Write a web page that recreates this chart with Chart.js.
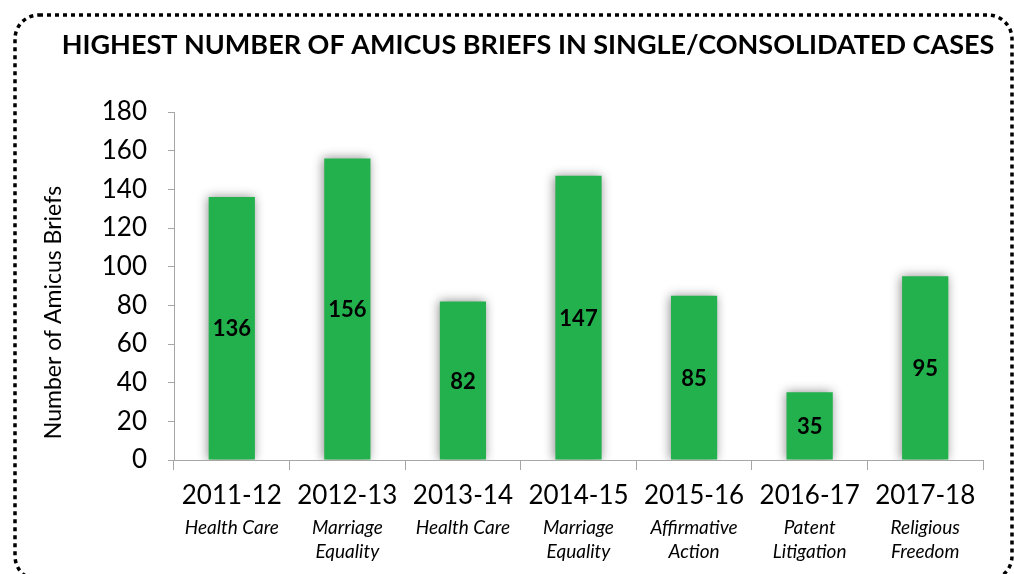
<!DOCTYPE html>
<html>
<head>
<meta charset="utf-8">
<script src="https://cdn.jsdelivr.net/npm/chart.js@4.4.0/dist/chart.umd.min.js"></script>
<style>
  html, body { margin: 0; padding: 0; background: #fff; }
  #wrap { position: relative; width: 1014px; height: 574px; }
</style>
</head>
<body>
<div id="wrap"><canvas id="briefsChart" width="1014" height="574"></canvas></div>
<script>
const seasons = ['2011-12', '2012-13', '2013-14', '2014-15', '2015-16', '2016-17', '2017-18'];
const caseTopics = [
    'Health Care',
    ['Marriage', 'Equality'],
    'Health Care',
    ['Marriage', 'Equality'],
    ['Affirmative', 'Action'],
    ['Patent', 'Litigation'],
    ['Religious', 'Freedom']
];
const briefCounts = [136, 156, 82, 147, 85, 35, 95];
const yTicks = [0, 20, 40, 60, 80, 100, 120, 140, 160, 180];
const chartTitle = 'HIGHEST NUMBER OF AMICUS BRIEFS IN SINGLE/CONSOLIDATED CASES';

const FONT = 'Lato, "Open Sans", sans-serif';

// dotted rounded frame + heading
const framePlugin = {
    id: 'frame',
    afterDraw(chart) {
        const ctx = chart.ctx;
        ctx.save();
        ctx.strokeStyle = '#000';
        ctx.lineWidth = 3.5;
        ctx.setLineDash([4, 4]);
        ctx.beginPath();
        ctx.roundRect(15, 15, 997, 565, 24);
        ctx.stroke();

        ctx.font = 'bold 27px ' + FONT;
        ctx.fillStyle = '#000';
        ctx.textAlign = 'center';
        ctx.textBaseline = 'middle';
        ctx.fillText(chartTitle, 528, 45);
        ctx.restore();
    }
};

// soft shadow behind bars
const barShadow = {
    id: 'barShadow',
    beforeDatasetDraw(chart) {
        const ctx = chart.ctx;
        ctx.save();
        ctx.shadowColor = 'rgba(0,0,0,0.45)';
        ctx.shadowBlur = 10;
        ctx.shadowOffsetX = -1;
        ctx.shadowOffsetY = 0;
    },
    afterDatasetDraw(chart) {
        chart.ctx.restore();
    }
};

// value labels centred in each bar
const valueLabels = {
    id: 'valueLabels',
    afterDatasetsDraw(chart) {
        const ctx = chart.ctx;
        const meta = chart.getDatasetMeta(0);
        ctx.save();
        ctx.font = 'bold 22px ' + FONT;
        ctx.fillStyle = '#000';
        ctx.textAlign = 'center';
        ctx.textBaseline = 'middle';
        meta.data.forEach(function(bar, i) {
            const mid = (bar.y + bar.base) / 2;
            ctx.fillText(String(chart.data.datasets[0].data[i]), bar.x, mid + 1);
        });
        ctx.restore();
    }
};

const ctx = document.getElementById('briefsChart').getContext('2d');

new Chart(ctx, {
    type: 'bar',
    data: {
        labels: seasons,
        datasets: [{
            label: 'Amicus Briefs',
            data: briefCounts,
            backgroundColor: '#22b14c',
            borderWidth: 0,
            barPercentage: 0.4,
            categoryPercentage: 1.0
        }]
    },
    options: {
        responsive: false,
        animation: false,
        devicePixelRatio: 1,
        layout: {
            padding: { top: 112, right: 31, bottom: 10, left: 26 }
        },
        plugins: {
            legend: { display: false },
            tooltip: { enabled: false },
            title: { display: false }
        },
        scales: {
            x: {
                position: 'bottom',
                grid: {
                    offset: true,
                    drawOnChartArea: false,
                    tickLength: 10,
                    color: '#a6a6a6'
                },
                border: { color: '#a6a6a6', width: 1 },
                ticks: {
                    color: '#000',
                    padding: 10,
                    font: { family: FONT, size: 26 }
                },
                afterFit(scale) { scale.height = 51; }
            },
            x2: {
                type: 'category',
                position: 'bottom',
                labels: caseTopics,
                grid: { display: false, drawTicks: false },
                border: { display: false },
                ticks: {
                    color: '#000',
                    padding: 5,
                    font: { family: FONT, size: 19, style: 'italic', lineHeight: 1.263 }
                },
                afterFit(scale) { scale.height = 53; }
            },
            y: {
                min: 0,
                max: 180,
                afterBuildTicks(scale) {
                    scale.ticks = yTicks.map(function(v) { return { value: v }; });
                },
                grid: {
                    drawOnChartArea: false,
                    tickLength: 6,
                    color: '#a6a6a6'
                },
                border: { color: '#a6a6a6', width: 1 },
                ticks: {
                    color: '#000',
                    padding: 21,
                    font: { family: FONT, size: 26 }
                },
                title: {
                    display: true,
                    // trailing spaces nudge the centred title down the axis
                    text: 'Number of Amicus Briefs' + '\u00A0'.repeat(9),
                    color: '#000',
                    font: { family: FONT, size: 23 },
                    padding: { top: 14, bottom: 0 }
                },
                afterFit(scale) { scale.width = 148; }
            }
        }
    },
    plugins: [barShadow, valueLabels, framePlugin]
});
</script>
</body>
</html>
